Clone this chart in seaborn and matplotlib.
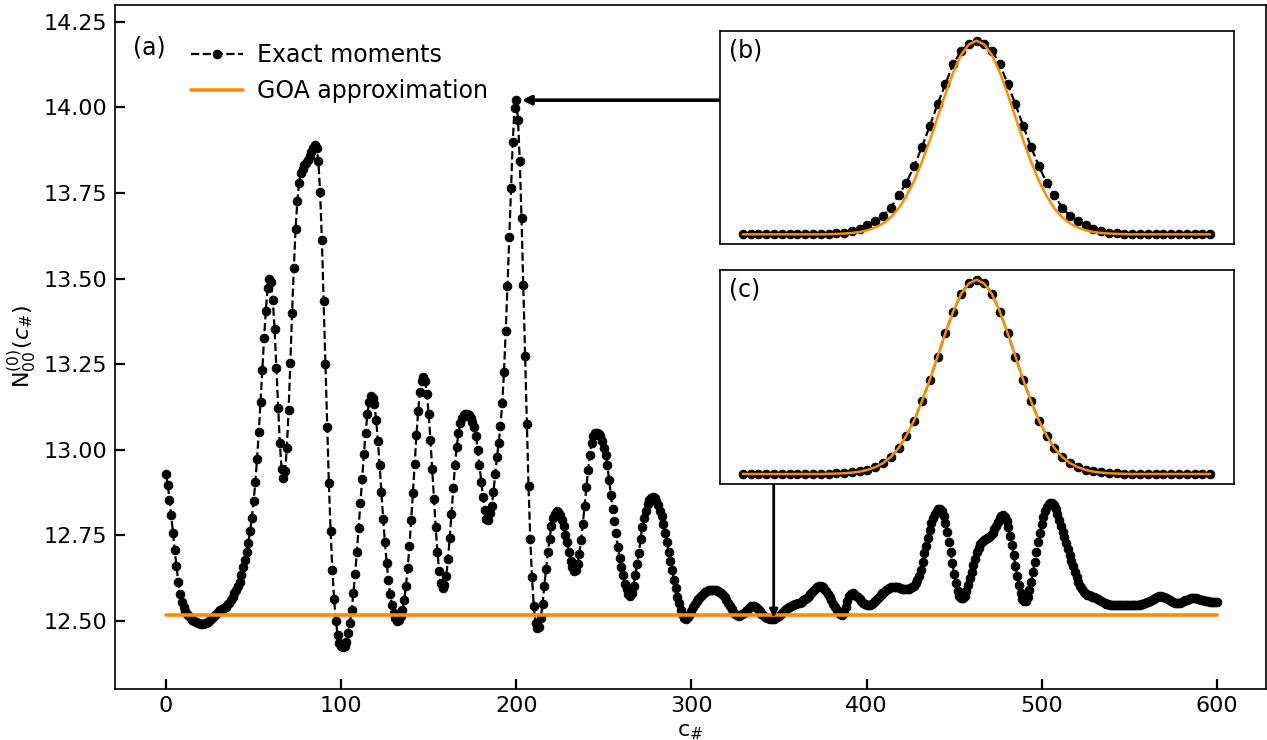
import numpy as np
import pandas as pd
import matplotlib
matplotlib.use("Agg")
import matplotlib.pyplot as plt
import seaborn as sns
from matplotlib.transforms import blended_transform_factory

# ---------------- data ----------------
c_hash = list(range(0, 601))

exact_moments = [
    12.928, 12.897, 12.854, 12.808, 12.757, 12.706, 12.659, 12.615, 12.579, 12.554,
    12.540, 12.530, 12.521, 12.514, 12.508, 12.503, 12.499, 12.496, 12.494, 12.493,
    12.492, 12.492, 12.493, 12.495, 12.498, 12.502, 12.507, 12.512, 12.518, 12.523,
    12.528, 12.532, 12.535, 12.538, 12.541, 12.545, 12.551, 12.560, 12.571, 12.581,
    12.591, 12.603, 12.615, 12.635, 12.656, 12.679, 12.701, 12.728, 12.762, 12.801,
    12.849, 12.905, 12.974, 13.053, 13.140, 13.232, 13.325, 13.406, 13.471, 13.500,
    13.490, 13.436, 13.353, 13.240, 13.123, 13.019, 12.944, 12.916, 12.937, 13.004,
    13.115, 13.253, 13.400, 13.532, 13.645, 13.726, 13.780, 13.809, 13.821, 13.831,
    13.838, 13.845, 13.857, 13.870, 13.882, 13.889, 13.882, 13.842, 13.754, 13.613,
    13.434, 13.250, 13.066, 12.902, 12.762, 12.648, 12.563, 12.500, 12.459, 12.435,
    12.426, 12.424, 12.428, 12.439, 12.464, 12.493, 12.532, 12.581, 12.638, 12.702,
    12.771, 12.843, 12.915, 12.986, 13.050, 13.104, 13.140, 13.157, 13.150, 13.133,
    13.087, 13.025, 12.954, 12.876, 12.799, 12.730, 12.669, 12.620, 12.579, 12.547,
    12.524, 12.508, 12.501, 12.503, 12.513, 12.532, 12.562, 12.603, 12.654, 12.718,
    12.794, 12.874, 12.959, 13.042, 13.113, 13.169, 13.201, 13.211, 13.201, 13.162,
    13.104, 13.028, 12.944, 12.856, 12.773, 12.701, 12.645, 12.612, 12.596, 12.605,
    12.630, 12.681, 12.742, 12.813, 12.887, 12.954, 13.008, 13.050, 13.079, 13.092,
    13.100, 13.104, 13.104, 13.100, 13.092, 13.081, 13.067, 13.040, 12.999, 12.954,
    12.907, 12.862, 12.823, 12.798, 12.794, 12.815, 12.835, 12.876, 12.930, 12.979,
    13.021, 13.069, 13.136, 13.228, 13.348, 13.478, 13.620, 13.764, 13.899, 13.997,
    14.021, 13.963, 13.844, 13.677, 13.480, 13.274, 13.074, 12.894, 12.740, 12.627,
    12.544, 12.495, 12.479, 12.481, 12.508, 12.550, 12.601, 12.651, 12.700, 12.739,
    12.776, 12.800, 12.813, 12.820, 12.818, 12.809, 12.795, 12.776, 12.750, 12.729,
    12.700, 12.675, 12.656, 12.646, 12.648, 12.665, 12.695, 12.735, 12.783, 12.836,
    12.890, 12.940, 12.985, 13.020, 13.040, 13.048, 13.050, 13.047, 13.039, 13.025,
    13.005, 12.985, 12.955, 12.912, 12.868, 12.826, 12.793, 12.757, 12.716, 12.684,
    12.658, 12.633, 12.608, 12.592, 12.578, 12.574, 12.582, 12.603, 12.635, 12.665,
    12.698, 12.740, 12.775, 12.800, 12.822, 12.840, 12.852, 12.858, 12.861, 12.858,
    12.850, 12.838, 12.822, 12.805, 12.782, 12.756, 12.729, 12.700, 12.675, 12.650,
    12.620, 12.595, 12.571, 12.551, 12.531, 12.518, 12.509, 12.505, 12.510, 12.520,
    12.530, 12.540, 12.549, 12.557, 12.564, 12.570, 12.576, 12.581, 12.585, 12.587,
    12.589, 12.590, 12.590, 12.590, 12.589, 12.588, 12.585, 12.581, 12.576, 12.570,
    12.562, 12.553, 12.543, 12.534, 12.526, 12.520, 12.516, 12.515, 12.516, 12.520,
    12.524, 12.528, 12.533, 12.538, 12.542, 12.544, 12.544, 12.541, 12.535, 12.528,
    12.521, 12.516, 12.512, 12.509, 12.507, 12.506, 12.505, 12.505, 12.507, 12.510,
    12.514, 12.519, 12.524, 12.529, 12.534, 12.538, 12.541, 12.544, 12.546, 12.548,
    12.549, 12.551, 12.553, 12.556, 12.560, 12.564, 12.568, 12.573, 12.579, 12.585,
    12.591, 12.596, 12.599, 12.601, 12.601, 12.599, 12.594, 12.587, 12.579, 12.570,
    12.560, 12.550, 12.540, 12.531, 12.524, 12.519, 12.518, 12.523, 12.540, 12.558,
    12.572, 12.578, 12.580, 12.578, 12.574, 12.569, 12.564, 12.558, 12.553, 12.549,
    12.546, 12.545, 12.546, 12.549, 12.554, 12.559, 12.564, 12.569, 12.575, 12.580,
    12.585, 12.589, 12.593, 12.596, 12.598, 12.600, 12.600, 12.599, 12.598, 12.596,
    12.594, 12.593, 12.592, 12.592, 12.593, 12.596, 12.600, 12.603, 12.610, 12.620,
    12.632, 12.650, 12.672, 12.698, 12.720, 12.742, 12.765, 12.785, 12.800, 12.813,
    12.822, 12.826, 12.826, 12.820, 12.805, 12.785, 12.760, 12.730, 12.700, 12.668,
    12.638, 12.610, 12.588, 12.573, 12.566, 12.566, 12.574, 12.588, 12.606, 12.625,
    12.643, 12.662, 12.682, 12.700, 12.714, 12.724, 12.731, 12.735, 12.738, 12.741,
    12.745, 12.751, 12.758, 12.767, 12.778, 12.790, 12.800, 12.806, 12.808, 12.804,
    12.792, 12.773, 12.749, 12.721, 12.691, 12.661, 12.632, 12.605, 12.582, 12.565,
    12.557, 12.558, 12.570, 12.590, 12.615, 12.643, 12.672, 12.702, 12.730, 12.757,
    12.782, 12.803, 12.820, 12.833, 12.841, 12.845, 12.844, 12.838, 12.826, 12.811,
    12.795, 12.778, 12.761, 12.744, 12.727, 12.709, 12.692, 12.675, 12.659, 12.643,
    12.628, 12.614, 12.602, 12.592, 12.585, 12.580, 12.577, 12.575, 12.573, 12.571,
    12.569, 12.567, 12.564, 12.561, 12.558, 12.555, 12.552, 12.550, 12.548, 12.547,
    12.546, 12.546, 12.546, 12.546, 12.546, 12.546, 12.546, 12.546, 12.546, 12.546,
    12.546, 12.546, 12.546, 12.546, 12.547, 12.547, 12.547, 12.548, 12.550, 12.552,
    12.554, 12.556, 12.559, 12.562, 12.565, 12.568, 12.570, 12.572, 12.572, 12.571,
    12.569, 12.566, 12.563, 12.560, 12.557, 12.555, 12.553, 12.552, 12.552, 12.553,
    12.555, 12.557, 12.560, 12.562, 12.564, 12.566, 12.567, 12.567, 12.566, 12.565,
    12.563, 12.561, 12.560, 12.559, 12.558, 12.557, 12.556, 12.555, 12.555, 12.554,
    12.554,
]

goa_x = [0, 600]
goa_level = [12.518, 12.518]

# insets: distribution over the inset index
inset_k = list(range(-30, 31))
exact_b = [
    0.000, 0.000, 0.000, 0.000, 0.000, 0.000, 0.000, 0.000, 0.000, 0.000,
    0.001, 0.002, 0.005, 0.009, 0.017, 0.029, 0.048, 0.069, 0.095, 0.138,
    0.202, 0.267, 0.353, 0.452, 0.560, 0.672, 0.776, 0.879, 0.945, 0.983,
    1.000,
    0.983, 0.945, 0.879, 0.776, 0.672, 0.560, 0.452, 0.353, 0.267, 0.202,
    0.138, 0.095, 0.069, 0.048, 0.029, 0.017, 0.009, 0.005, 0.002, 0.001,
    0.000, 0.000, 0.000, 0.000, 0.000, 0.000, 0.000, 0.000, 0.000, 0.000,
]
goa_b = [
    0.000, 0.000, 0.000, 0.000, 0.000, 0.000, 0.000, 0.000, 0.000, 0.000,
    0.000, 0.001, 0.002, 0.004, 0.007, 0.012, 0.021, 0.035, 0.056, 0.088,
    0.134, 0.198, 0.277, 0.375, 0.485, 0.605, 0.725, 0.836, 0.925, 0.980,
    1.000,
    0.980, 0.925, 0.836, 0.725, 0.605, 0.485, 0.375, 0.277, 0.198, 0.134,
    0.088, 0.056, 0.035, 0.021, 0.012, 0.007, 0.004, 0.002, 0.001, 0.000,
    0.000, 0.000, 0.000, 0.000, 0.000, 0.000, 0.000, 0.000, 0.000, 0.000,
]
exact_c = [
    0.000, 0.000, 0.000, 0.000, 0.000, 0.000, 0.000, 0.000, 0.000, 0.000,
    0.000, 0.001, 0.003, 0.005, 0.009, 0.014, 0.022, 0.036, 0.057, 0.088,
    0.133, 0.198, 0.275, 0.375, 0.484, 0.604, 0.725, 0.835, 0.926, 0.983,
    1.000,
    0.983, 0.926, 0.835, 0.725, 0.604, 0.484, 0.375, 0.275, 0.198, 0.133,
    0.088, 0.057, 0.036, 0.022, 0.014, 0.009, 0.005, 0.003, 0.001, 0.000,
    0.000, 0.000, 0.000, 0.000, 0.000, 0.000, 0.000, 0.000, 0.000, 0.000,
]
goa_c = list(goa_b)

xticks = [0, 100, 200, 300, 400, 500, 600]
yticks = [12.50, 12.75, 13.00, 13.25, 13.50, 13.75, 14.00, 14.25]
ytick_labels = ["12.50", "12.75", "13.00", "13.25", "13.50", "13.75", "14.00", "14.25"]

# ---------------- style ----------------
sns.set_theme(style="ticks")
plt.rcParams["font.family"] = ["DejaVu Sans"]
plt.rcParams["mathtext.fontset"] = "dejavusans"
plt.rcParams["axes.edgecolor"] = "black"
plt.rcParams["text.color"] = "black"
plt.rcParams["axes.labelcolor"] = "black"
plt.rcParams["xtick.color"] = "black"
plt.rcParams["ytick.color"] = "black"

W, H = 1267, 740
fig = plt.figure(figsize=(W / 100, H / 100), dpi=100)

def frac_box(x0, y0, x1, y1):
    return [x0 / W, 1 - y1 / H, (x1 - x0) / W, (y1 - y0) / H]

ax = fig.add_axes(frac_box(114.5, 5, 1266, 689))

df = pd.DataFrame({"c": c_hash, "N": exact_moments})
sns.lineplot(data=df, x="c", y="N", ax=ax, color="black", linestyle="--",
             linewidth=1.6, marker="o", markersize=6.3, markeredgecolor="black",
             markeredgewidth=0.6, errorbar=None, label="Exact moments")
sns.lineplot(x=goa_x, y=goa_level, ax=ax, color="darkorange", linewidth=2.6,
             errorbar=None, label="GOA approximation")

ax.set_xlim(-29.4, 628.1)
ax.set_ylim(12.301, 14.299)
ax.set_xticks(xticks)
ax.set_xticklabels([str(t) for t in xticks])
ax.set_yticks(yticks)
ax.set_yticklabels(ytick_labels)
ax.tick_params(direction="in", length=7, width=1.6, labelsize=16,
               top=False, right=False, pad=5)
for s in ax.spines.values():
    s.set_linewidth(1.2)
    s.set_color("black")
ax.set_xlabel(r"c$_{\#}$", fontsize=16)
ax.set_ylabel(r"N$^{(0)}_{00}(c_{\#})$", fontsize=16)

leg = ax.legend(loc="upper left", bbox_to_anchor=(0.058, 0.958), frameon=False,
                fontsize=17, handlelength=2.2, handletextpad=0.6,
                borderaxespad=0)
ax.text(0.016, 0.955, "(a)", transform=ax.transAxes, fontsize=17, va="top", ha="left")

# ---------------- insets ----------------
ax_b = fig.add_axes(frac_box(719.5, 31, 1233.5, 244))
ax_c = fig.add_axes(frac_box(719.5, 270, 1233.5, 483.7))

for axi, ex, go, lab in [(ax_b, exact_b, goa_b, "(b)"), (ax_c, exact_c, goa_c, "(c)")]:
    sns.lineplot(x=inset_k, y=ex, ax=axi, color="black", linestyle="--",
                 linewidth=1.6, marker="o", markersize=6.3, markeredgecolor="black",
                 markeredgewidth=0.6, errorbar=None)
    sns.lineplot(x=inset_k, y=go, ax=axi, color="darkorange", linewidth=1.8,
                 errorbar=None)
    axi.set_xticks([])
    axi.set_yticks([])
    axi.set_xlabel("")
    axi.set_ylabel("")
    axi.set_facecolor("white")
    for s in axi.spines.values():
        s.set_linewidth(1.2)
        s.set_color("black")
    axi.text(0.018, 0.965, lab, transform=axi.transAxes, fontsize=17,
             va="top", ha="left")

# ---------------- arrows ----------------
peak_i = int(np.argmax(exact_moments))
ax.annotate("", xy=(c_hash[peak_i], exact_moments[peak_i]), xycoords="data",
            xytext=(0, exact_moments[peak_i]),
            textcoords=blended_transform_factory(ax_b.transAxes, ax.transData),
            arrowprops=dict(arrowstyle="-|>", color="black", lw=2.6,
                            shrinkA=0, shrinkB=4, mutation_scale=13))
c_sel = 347
ax.annotate("", xy=(c_sel, exact_moments[c_sel]), xycoords="data",
            xytext=(c_sel, 0),
            textcoords=blended_transform_factory(ax.transData, ax_c.transAxes),
            arrowprops=dict(arrowstyle="-|>", color="black", lw=2.0,
                            shrinkA=0, shrinkB=1, mutation_scale=12))

fig.savefig("out.png", dpi=100)
